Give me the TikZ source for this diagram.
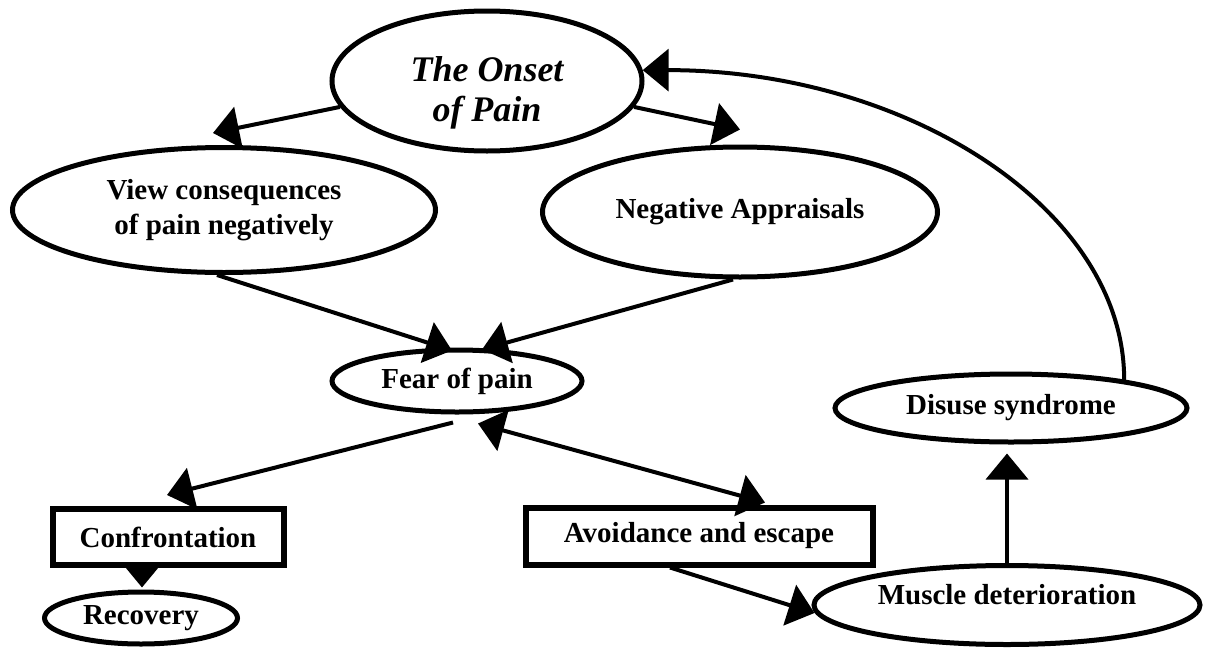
\documentclass[tikz,border=0pt]{standalone}
\usepackage{fontspec}
\setmainfont{Liberation Serif}
\usetikzlibrary{arrows.meta,calc,shapes.geometric}
\begin{document}
\begin{tikzpicture}[x=1pt,y=-1pt,
  every node/.style={font=\fontsize{29}{35}\selectfont\bfseries, align=center, inner sep=0pt},
  oval/.style={draw, ellipse, line width=5pt},
  box/.style={draw, rectangle, line width=6pt},
  conn/.style={line width=4pt, -{Triangle[length=26pt,width=42pt]}},
  dconn/.style={line width=4pt, {Triangle[length=26pt,width=42pt]}-{Triangle[length=26pt,width=42pt]}},
  smallconn/.style={line width=4pt, -{Triangle[length=20pt,width=32pt]}},
  ]
\useasboundingbox (0,0) rectangle (1205,651);
\node[oval, minimum width=310pt, minimum height=140pt, font=\fontsize{36}{40}\selectfont\bfseries\itshape] (onset) at (487,81) {\rule{0pt}{48pt}The Onset\\of Pain};
\node[oval, minimum width=423pt, minimum height=125pt] (view) at (224,210) {View consequences\\of pain negatively};
\node[oval, minimum width=395pt, minimum height=130pt] (neg) at (740,212) {Negative Appraisals};
\node[oval, minimum width=250pt, minimum height=62pt] (fear) at (457,381) {Fear of pain};
\node[oval, minimum width=352pt, minimum height=68pt] (disuse) at (1011,408) {Disuse syndrome};
\node[oval, minimum width=386pt, minimum height=79pt] (muscle) at (1007,605) {\rule[-22pt]{0pt}{1pt}Muscle deterioration};
\node[oval, minimum width=193pt, minimum height=52pt] (rec) at (141,618) {Recovery};
\node[box, minimum width=231pt, minimum height=56pt] (conf) at (168,537) {Confrontation};
\node[box, minimum width=347pt, minimum height=57pt] (avoid) at (699,536) {Avoidance and escape};

\draw[conn] (onset.190) -- ($(view.north)+(-11,-12)$);
\draw[conn] (onset.350) -- ($(neg.north)+(0,-15)$);
\draw[conn] ($(view.south)+(-7,0)$) -- ($(fear.north)+(-5,3)$);
\draw[conn] ($(neg.south)+(-7,0)$) -- ($(fear.north)+(25,2)$);
\draw[conn] ($(fear.south)+(-4,8)$) -- ($(conf.north)+(-1,-11)$);
\draw[dconn] ($(fear.south)+(21,9)$) -- ($(avoid.north)+(66,-2)$);
\draw[conn] ($(avoid.south)+(-29,0)$) -- ($(muscle.west)+(3,8)$);
\draw[conn] (muscle.north) -- ($(disuse.south)+(-4,9)$);
\draw[smallconn] ($(conf.south)+(-26,0)$) -- ($(rec.north)+(1,-2)$);
\draw[conn] (disuse.14) .. controls ($(disuse.14)+(0,-171)$) and ($(onset.4)+(264,0)$) .. (onset.4);
\end{tikzpicture}
\end{document}
